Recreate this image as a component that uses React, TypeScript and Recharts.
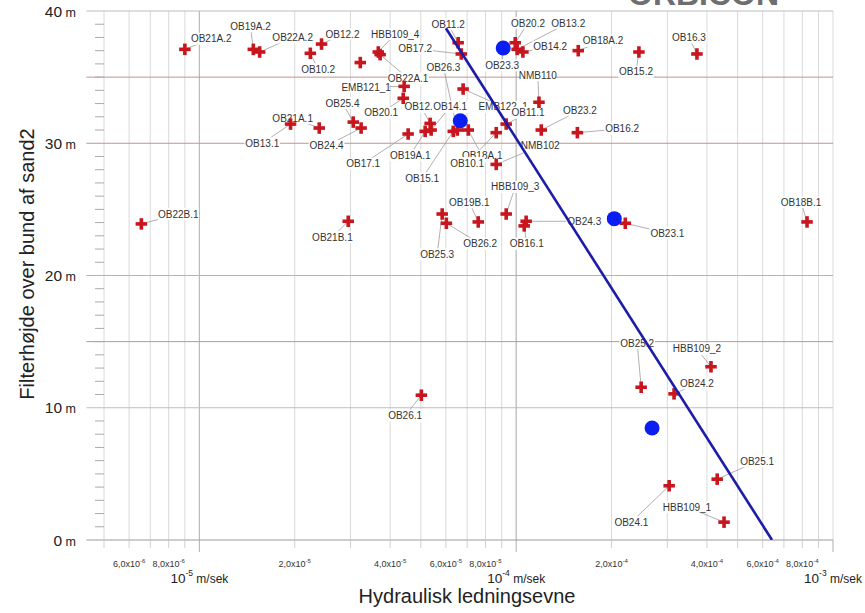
import React from 'react';
import { ScatterChart, Scatter, XAxis, YAxis, CartesianGrid, ReferenceLine } from 'recharts';

// ---------- data ----------
const wellNames = [
  'OB21A.2', 'OB19A.2', 'OB22A.2', 'OB12.2', 'OB10.2', 'HBB109_4', 'OB22A.1', '',
  'EMB121_1', 'OB20.1', 'OB25.4', 'OB24.4', 'OB13.1', 'OB21A.1', 'OB17.1', 'OB12.1',
  'OB14.1', 'OB19A.1', 'OB15.1', 'OB26.3', 'OB18A.1', 'EMB122_1', 'OB11.1', 'OB10.1',
  'NMB102', 'NMB110', 'OB23.2', 'OB16.2', 'OB20.2', 'OB13.2', 'OB14.2', 'OB17.2',
  'OB11.2', 'OB23.3', 'OB18A.2', 'OB15.2', 'OB16.3', 'OB22B.1', 'OB21B.1', 'OB25.3',
  'OB26.2', 'OB19B.1', 'HBB109_3', 'OB24.3', 'OB16.1', 'OB23.1', 'OB18B.1', 'OB25.2',
  'HBB109_2', 'OB24.2', 'OB25.1', 'OB24.1', 'HBB109_1', 'OB26.1',
];

// hydraulic conductivity, m/s
const conductivity = [
  9.0e-6, 1.48e-5, 1.55e-5, 2.43e-5, 2.24e-5, 3.67e-5, 3.72e-5, 3.22e-5,
  4.43e-5, 4.40e-5, 3.06e-5, 3.24e-5, 1.94e-5, 2.39e-5, 4.56e-5, 5.35e-5,
  5.39e-5, 5.16e-5, 6.33e-5, 6.52e-5, 7.06e-5, 6.80e-5, 9.30e-5, 8.65e-5,
  8.65e-5, 1.18e-4, 1.20e-4, 1.56e-4, 9.93e-5, 1.007e-4, 1.05e-4, 6.71e-5,
  6.56e-5, 9.10e-5, 1.57e-4, 2.44e-4, 3.72e-4, 6.56e-6, 2.95e-5, 5.84e-5,
  6.02e-5, 7.59e-5, 9.30e-5, 1.075e-4, 1.06e-4, 2.21e-4, 8.28e-4, 2.48e-4,
  4.12e-4, 3.15e-4, 4.31e-4, 3.04e-4, 4.53e-4, 5.02e-5,
];

// filter height above bottom of sand2, m
const filterHeight = [
  37.1, 37.1, 36.9, 37.5, 36.8, 36.9, 36.7, 36.1,
  34.3, 33.4, 31.6, 31.15, 31.45, 31.15, 30.7, 31.5,
  31.0, 30.9, 30.9, 31.0, 31.0, 34.1, 31.45, 30.8,
  28.4, 33.1, 31.0, 30.8, 37.6, 37.1, 36.9, 36.75,
  37.6, 37.2, 37.0, 36.9, 36.75, 23.9, 24.1, 24.65,
  23.95, 24.05, 24.65, 24.1, 23.75, 23.95, 24.05, 11.55,
  13.1, 11.05, 4.6, 4.1, 1.35, 10.95,
];

// label anchor positions (data units)
const labelK = [
  1.09e-5, 1.45e-5, 1.97e-5, 2.83e-5, 2.37e-5, 4.15e-5, 4.56e-5, 0,
  3.36e-5, 3.75e-5, 2.83e-5, 2.52e-5, 1.58e-5, 1.97e-5, 3.29e-5, 5.02e-5,
  6.19e-5, 4.63e-5, 5.05e-5, 5.89e-5, 7.81e-5, 9.10e-5, 1.09e-4, 7.00e-5,
  1.19e-4, 1.17e-4, 1.59e-4, 2.16e-4, 1.09e-4, 1.46e-4, 1.28e-4, 4.80e-5,
  6.10e-5, 9.03e-5, 1.88e-4, 2.39e-4, 3.51e-4, 8.58e-6, 2.63e-5, 5.63e-5,
  7.70e-5, 7.11e-5, 9.93e-5, 1.64e-4, 1.08e-4, 3.00e-4, 7.93e-4, 2.41e-4,
  3.72e-4, 3.72e-4, 5.76e-4, 2.31e-4, 3.46e-4, 4.46e-5,
];
const labelH = [
  37.9, 38.85, 38.0, 38.25, 35.6, 38.25, 34.9, 0,
  34.25, 32.3, 33.05, 29.8, 30.0, 31.9, 28.45, 32.75,
  32.75, 29.1, 27.35, 35.75, 29.05, 32.75, 32.3, 28.5,
  29.8, 35.15, 32.5, 31.1, 39.1, 39.1, 37.3, 37.15,
  39.0, 35.9, 37.75, 35.4, 38.0, 24.65, 22.9, 21.6,
  22.4, 25.55, 26.7, 24.1, 22.4, 23.2, 25.55, 14.9,
  14.45, 11.85, 5.95, 1.35, 2.5, 9.4,
];

// blue mean points
const meanK = [9.1e-5, 6.66e-5, 2.04e-4, 2.685e-4];
const meanH = [37.2, 31.7, 24.3, 8.47];

// blue trend line end points
const trendK = [6.0e-5, 6.42e-4];
const trendH = [38.7, 0];

// axis ticks
const xTicks = [
  5e-6, 6e-6, 7e-6, 8e-6, 9e-6, 1e-5, 2e-5, 3e-5, 4e-5, 5e-5, 6e-5, 7e-5, 8e-5, 9e-5,
  1e-4, 2e-4, 3e-4, 4e-4, 5e-4, 6e-4, 7e-4, 8e-4, 9e-4, 1e-3,
];
const xSmallLabelTicks = [6e-6, 8e-6, 2e-5, 4e-5, 6e-5, 8e-5, 2e-4, 4e-4, 6e-4, 8e-4];
const xDecadeTicks = [1e-5, 1e-4, 1e-3];
const yMajorTicks = [0, 10, 20, 30, 40];
const yAllTicks = [
  0, 1, 2, 3, 4, 5, 6, 7, 8, 9, 10, 11, 12, 13, 14, 15, 16, 17, 18, 19, 20,
  21, 22, 23, 24, 25, 26, 27, 28, 29, 30, 31, 32, 33, 34, 35, 36, 37, 38, 39, 40,
];
const ruleHeights = [40, 35, 30, 20, 15, 10, 0];
const X_MIN = 5e-6;
const X_MAX = 1e-3;
const RULE_LEFT = 4.4e-6;

// ---------- styles ----------
const FONT = '"Liberation Sans", Arial, Helvetica, sans-serif';
const RED = '#c8161e';
const BLUE_DOT = '#0a1ef2';
const BLUE_LINE = '#1c1ca8';

const ruleColor = (h: number) => {
  if (h === 0) return '#9a9a9a';
  if (h === 40 || h === 10) return '#bdbdbd';
  if (h === 20) return '#d0a8aa';
  return '#c39396';
};

const near = (a: number, b: number) => Math.abs(a - b) / b < 1e-6;

const crossRows = wellNames.map((name, i) => ({ k: conductivity[i], h: filterHeight[i], name }));
const labelRows = wellNames
  .map((name, i) => ({ k: labelK[i], h: labelH[i], name }))
  .filter((r) => r.name !== '');
const meanRows = meanK.map((k, i) => ({ k, h: meanH[i] }));
const trendRows = trendK.map((k, i) => ({ k, h: trendH[i] }));

const Cross = (p: any) => {
  const { cx, cy } = p;
  if (cx == null || cy == null) return <g />;
  return (
    <g>
      <rect x={cx - 5.75} y={cy - 1.8} width={11.5} height={3.6} fill={RED} />
      <rect x={cx - 1.8} y={cy - 5.75} width={3.6} height={11.5} fill={RED} />
    </g>
  );
};

const Dot = (p: any) => {
  const { cx, cy } = p;
  if (cx == null || cy == null) return <g />;
  return <circle cx={cx} cy={cy} r={7.5} fill={BLUE_DOT} />;
};

const NoShape = () => <g />;

const LabelShape = (p: any) => {
  const { cx, cy, payload } = p;
  if (cx == null || cy == null) return <g />;
  const name: string = payload.name;
  const w = name.length * 5.6 + 2;
  return (
    <g>
      <rect x={cx - w / 2} y={cy - 6} width={w} height={12} fill="#fff" />
      <text x={cx} y={cy + 3.6} textAnchor="middle" fontSize={10} fill="#333" fontFamily={FONT}>
        {name}
      </text>
    </g>
  );
};

const XTick = (p: any) => {
  const { x, y, payload } = p;
  const v: number = payload.value;
  const isDecade = xDecadeTicks.some((d) => near(v, d));
  const isSmall = xSmallLabelTicks.some((d) => near(v, d));
  const exp = Math.floor(Math.log10(v) + 1e-9);
  const mant = Math.round(v / Math.pow(10, exp));
  return (
    <g>
      <line x1={x} x2={x} y1={y} y2={y + (isDecade ? 12 : 8)} stroke={isDecade ? '#b0b0b0' : '#d0d0d0'} />
      {isSmall && (
        <text x={x} y={y + 27} textAnchor="middle" fontSize={9} fill="#333" fontFamily={FONT}>
          <tspan>{`${mant},0x10`}</tspan>
          <tspan dy={-4} fontSize={6}>{`${exp}`}</tspan>
        </text>
      )}
      {isDecade && (
        <text x={x} y={y + 43} textAnchor="middle" fill="#222" fontFamily={FONT}>
          <tspan fontSize={13.5}>10</tspan>
          <tspan fontSize={8.5} dy={-7}>{`${exp}`}</tspan>
          <tspan fontSize={12} dy={7}> m/sek</tspan>
        </text>
      )}
    </g>
  );
};

const YTick = (p: any) => {
  const { x, y, payload } = p;
  const v: number = payload.value;
  if (yMajorTicks.includes(v)) {
    return (
      <text x={x - 28} y={y + 5.5} textAnchor="end" fill="#222" fontFamily={FONT}>
        <tspan fontSize={15.5}>{`${v}`}</tspan>
        <tspan fontSize={12.5}> m</tspan>
      </text>
    );
  }
  return <line x1={x - 9} x2={x} y1={y} y2={y} stroke="#aaaaaa" />;
};

export default function App() {
  return (
    <div style={{ position: 'absolute', left: 0, top: 0, width: 865, height: 613, background: '#fff' }}>
      <ScatterChart width={865} height={613} margin={{ top: 11, right: 32, bottom: 0, left: 0 }}>
        <CartesianGrid horizontal={false} stroke="#dadada" strokeDasharray="" />
        <XAxis
          dataKey="k"
          type="number"
          scale="log"
          domain={[X_MIN, X_MAX]}
          allowDataOverflow
          ticks={xTicks}
          interval={0}
          height={73}
          tickSize={0}
          tickMargin={0}
          tickLine={false}
          axisLine={false}
          tick={(props: any) => <XTick {...props} />}
        />
        <YAxis
          dataKey="h"
          type="number"
          domain={[0, 40]}
          allowDataOverflow
          ticks={yAllTicks}
          interval={0}
          width={104}
          tickSize={0}
          tickMargin={0}
          tickLine={false}
          axisLine={false}
          tick={(props: any) => <YTick {...props} />}
        />
        {xDecadeTicks.slice(0, 2).map((d) => (
          <ReferenceLine key={`dec${d}`} x={d} stroke="#b5b5b5" strokeWidth={1} />
        ))}
        {ruleHeights.map((h) => (
          <ReferenceLine
            key={`rule${h}`}
            segment={[{ x: RULE_LEFT, y: h }, { x: X_MAX, y: h }]}
            stroke={ruleColor(h)}
            strokeWidth={1}
            ifOverflow="visible"
          />
        ))}
        {wellNames.map((name, i) =>
          name === '' ? null : (
            <ReferenceLine
              key={`lead${i}`}
              segment={[{ x: conductivity[i], y: filterHeight[i] }, { x: labelK[i], y: labelH[i] }]}
              stroke="#9c9c9c"
              strokeWidth={0.8}
              ifOverflow="visible"
            />
          )
        )}
        <Scatter data={labelRows} shape={LabelShape} isAnimationActive={false} />
        <Scatter data={crossRows} shape={Cross} isAnimationActive={false} />
        <Scatter data={meanRows} shape={Dot} isAnimationActive={false} />
        <Scatter
          data={trendRows}
          shape={NoShape}
          line={{ stroke: BLUE_LINE, strokeWidth: 2.6 }}
          isAnimationActive={false}
        />
      </ScatterChart>
      <svg
        width={865}
        height={613}
        style={{ position: 'absolute', left: 0, top: 0, pointerEvents: 'none' }}
      >
        <text x={628} y={5} fontSize={32} fontWeight="bold" fill="#6e6e6e" fontFamily={FONT}>
          ORBICON
        </text>
        <text x={467} y={603} textAnchor="middle" fontSize={20} fill="#222" fontFamily={FONT}>
          Hydraulisk ledningsevne
        </text>
        <text
          x={34}
          y={264}
          textAnchor="middle"
          fontSize={20}
          fill="#222"
          fontFamily={FONT}
          transform="rotate(-90 34 264)"
        >
          Filterhøjde over bund af sand2
        </text>
      </svg>
    </div>
  );
}
